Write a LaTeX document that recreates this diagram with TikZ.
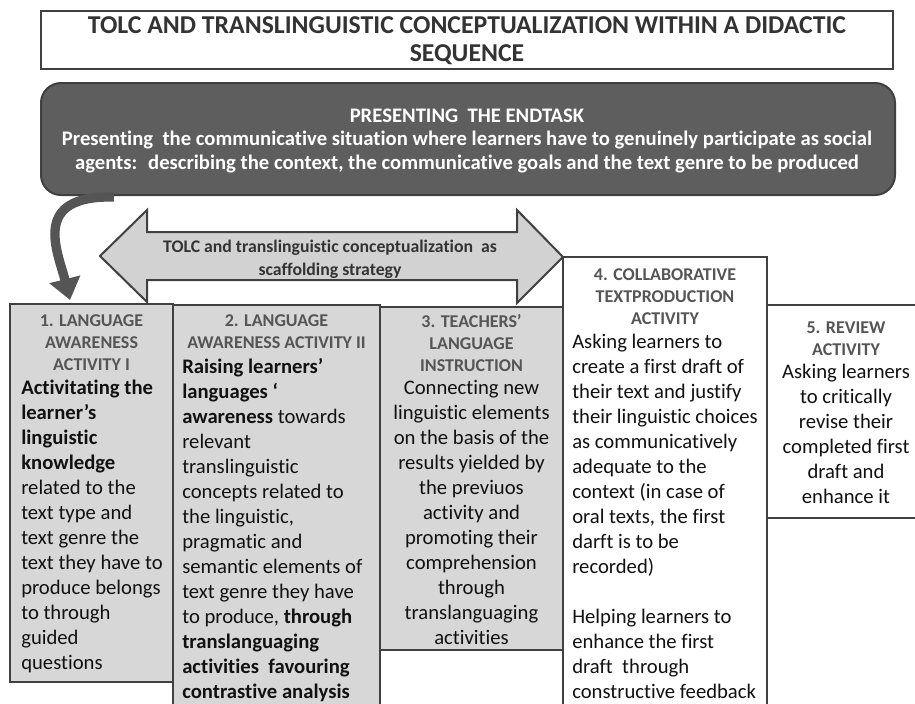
\documentclass[tikz,border=0pt]{standalone}
\usepackage{fontspec}
\setmainfont{Carlito}[Ligatures=NoCommon]
\usepackage{tikz}
\usetikzlibrary{arrows.meta, positioning, calc}
\definecolor{framegray}{HTML}{404040}
\definecolor{darkbox}{HTML}{5E5E5E}
\definecolor{paper}{HTML}{D7D7D7}
\definecolor{arrowfill}{HTML}{D2D2D2}
\definecolor{headgray}{HTML}{555555}
\definecolor{titlegray}{HTML}{333333}
\definecolor{bodyblack}{HTML}{111111}

\tikzset{
  actbox/.style={draw=framegray, line width=1.5pt},
  titletext/.style={font=\bfseries\fontsize{19.3}{21}\selectfont, text=titlegray, align=center, inner sep=0pt},
  endtext/.style={font=\bfseries\fontsize{15.5}{17.4}\selectfont, text=white, align=center, inner sep=0pt},
  arrowtext/.style={font=\bfseries\fontsize{13.3}{17.25}\selectfont, text=titlegray, align=center, inner sep=0pt},
  headtext/.style={font=\bfseries\fontsize{13.5}{16.5}\selectfont, text=headgray, align=center, inner sep=0pt},
  bodytext/.style={font=\fontsize{15.5}{18.75}\selectfont, text=bodyblack, inner sep=0pt},
}

\begin{document}
\begin{tikzpicture}[x=0.75pt, y=-0.75pt]
\clip (0,0) rectangle (915,704);
\fill[white] (0,0) rectangle (915,704);

% Title (nodes sit on the baseline of their last line)
\draw[actbox, fill=white] (41,11) rectangle (893,69);
\node[titletext, anchor=base] (title) at (467,61)
  {TOLC AND TRANSLINGUISTIC CONCEPTUALIZATION WITHIN A DIDACTIC\\SEQUENCE};

% End task
\draw[actbox, fill=darkbox, rounded corners=15pt] (41,83) rectangle (895,195);
\node[endtext, anchor=base] (endtask) at (467,169)
  {PRESENTING~ THE ENDTASK\\
   Presenting~ the communicative situation where learners have to genuinely participate as social\\
   agents:~ describing the context, the communicative goals and the text genre to be produced};

% Scaffolding arrow
\draw[actbox, fill=arrowfill, line join=miter]
  (100,256) -- (147,210) -- (147,232) -- (517,232) -- (517,210) -- (563,257)
  -- (517,303) -- (517,280) -- (147,280) -- (147,302) -- cycle;
\node[arrowtext, anchor=base] (scaffold) at (330,275)
  {TOLC and translinguistic conceptualization~ as\\scaffolding strategy};

% Activity boxes
\draw[actbox, fill=paper] (10,304) rectangle (173,682);
\draw[actbox, fill=paper] (173,305) rectangle (380,720);
\draw[actbox, fill=paper] (380,307) rectangle (563,650);
\draw[actbox, fill=white] (563,257) rectangle (767,720);
\draw[actbox, fill=white] (767,305) rectangle (930,518);

% 1
\node[headtext, anchor=base] (head1) at (91.5,370) {1. LANGUAGE\\AWARENESS\\ACTIVITY I};
\node[bodytext, align=left, anchor=base west] (body1) at (21,669)
  {\textbf{Activitating the}\\\textbf{learner’s}\\\textbf{linguistic}\\\textbf{knowledge}\\
   related to the\\text type and\\text genre the\\text they have to\\produce belongs\\
   to through\\guided\\questions};

% 2
\node[headtext, anchor=base] (head2) at (276.5,348) {2. LANGUAGE\\AWARENESS ACTIVITY II};
\node[bodytext, align=left, anchor=base west] (body2) at (182,698)
  {\textbf{Raising learners’}\\\textbf{languages ‘}\\\textbf{awareness} towards\\relevant\\
   translinguistic\\concepts related to\\the linguistic,\\pragmatic and\\
   semantic elements of\\text genre they have\\to produce, \textbf{through}\\
   \textbf{translanguaging}\\\textbf{activities~ favouring}\\\textbf{contrastive analysis}};

% 3
\node[headtext, anchor=base] (head3) at (471.5,371) {3. TEACHERS’\\LANGUAGE\\INSTRUCTION};
\node[bodytext, align=center, anchor=base] (body3) at (471.5,644)
  {Connecting new\\linguistic elements\\on the basis of the\\results yielded by\\
   the previuos\\activity and\\promoting their\\comprehension\\through\\
   translanguaging\\activities};

% 4
\node[headtext, anchor=base] (head4) at (665,324) {4. COLLABORATIVE\\TEXTPRODUCTION\\ACTIVITY};
\node[bodytext, align=left, anchor=base west] (body4) at (572,698)
  {Asking learners to\\create a first draft of\\their text and justify\\
   their linguistic choices\\as communicatively\\adequate to the\\
   context (in case of\\oral texts, the first\\darft is to be\\recorded)\\[18.75pt]
   Helping learners to\\enhance the first\\draft~ through\\constructive feedback};

% 5
\node[headtext, anchor=base] (head5) at (846,355) {5. REVIEW\\ACTIVITY};
\node[bodytext, align=center, anchor=base] (body5) at (846,503)
  {Asking learners\\to critically\\revise their\\completed first\\draft and\\enhance it};

% Back to the first activity
\coordinate (loopstart) at (114,197);
\coordinate (loopend) at (70,300);
\draw[draw=headgray, line width=7pt, -{Triangle[width=23pt, length=16pt]}]
  (loopstart) .. controls (30,195) and (58,252) .. (loopend);
\end{tikzpicture}
\end{document}
